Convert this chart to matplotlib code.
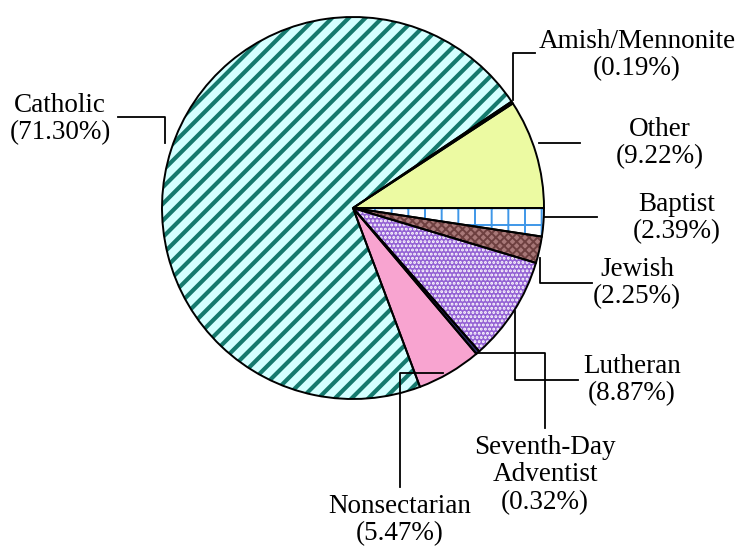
import matplotlib
matplotlib.use('Agg')
import matplotlib.pyplot as plt

# datos del grafico (porcentajes)
labels = ['Other', 'Amish/Mennonite', 'Catholic', 'Nonsectarian',
          'Seventh-Day\nAdventist', 'Lutheran', 'Jewish', 'Baptist']
values = [9.22, 0.19, 71.30, 5.47, 0.32, 8.87, 2.25, 2.39]

faces = ['#ecfaa2', '#2a2a4a', '#d4ffff', '#f8a4d0', '#2a2a60', '#9462d4', '#a87878', '#ffffff']
hatch_cols = ['#ecfaa2', '#2a2a4a', '#157a6e', '#f8a4d0', '#2a2a60', '#ffffff', '#6e4040', '#3f97e8']
hatches = [None, None, '//', None, None, '....', 'xxxx', '+']

W, H = 738, 548
cx, cy, r = 353, 208, 191

plt.rcParams['font.family'] = ['Liberation Serif', 'DejaVu Serif']
plt.rcParams['hatch.linewidth'] = 3.0

fig = plt.figure(figsize=(W / 100, H / 100), dpi=100)
ax = fig.add_axes([0, 0, 1, 1])

# tartas: una con rellenos/tramas y otra solo con el contorno negro
wedges, _ = ax.pie(values, startangle=0, counterclock=True,
                   center=(cx, H - cy), radius=r,
                   colors=faces, wedgeprops=dict(linewidth=0))
for w, hc, ht in zip(wedges, hatch_cols, hatches):
    w.set_edgecolor(hc)
    if ht:
        w.set_hatch(ht)
    if ht in ('+', '....', 'xxxx'):
        if hasattr(w, 'set_hatch_linewidth'):
            w.set_hatch_linewidth(1.4)
ax.pie(values, startangle=0, counterclock=True, center=(cx, H - cy), radius=r,
       wedgeprops=dict(fill=False, edgecolor='black', linewidth=1.4))

# lineas guia (coordenadas en pixeles de la imagen)
leaders = {
    'Amish/Mennonite': [(513, 100), (513, 53), (535, 53)],
    'Other': [(539, 143), (580, 143)],
    'Baptist': [(544, 217), (597, 217)],
    'Jewish': [(540, 258), (540, 283), (592, 283)],
    'Lutheran': [(515, 311), (515, 380), (578, 380)],
    'Seventh-Day\nAdventist': [(478, 353), (545, 353), (545, 428)],
    'Nonsectarian': [(443, 373), (400, 373), (400, 487)],
    'Catholic': [(165, 143), (165, 117), (118, 117)],
}
text_pos = {
    'Amish/Mennonite': (637, 55),
    'Other': (660, 143),
    'Baptist': (677, 218),
    'Jewish': (637, 283),
    'Lutheran': (632, 380),
    'Seventh-Day\nAdventist': (545, 475),
    'Nonsectarian': (400, 520),
    'Catholic': (60, 119),
}

for lab, val in zip(labels, values):
    pts = leaders[lab]
    ax.plot([p[0] for p in pts], [H - p[1] for p in pts], color='black', lw=1.3)
    tx, ty = text_pos[lab]
    ax.text(tx, H - ty, f'{lab}\n({val:.2f}%)', ha='center', va='center',
            fontsize=19.5, linespacing=1.15)

ax.set_xlim(0, W)
ax.set_ylim(0, H)
ax.set_aspect('equal')
ax.axis('off')

fig.savefig('out.png', dpi=100)
